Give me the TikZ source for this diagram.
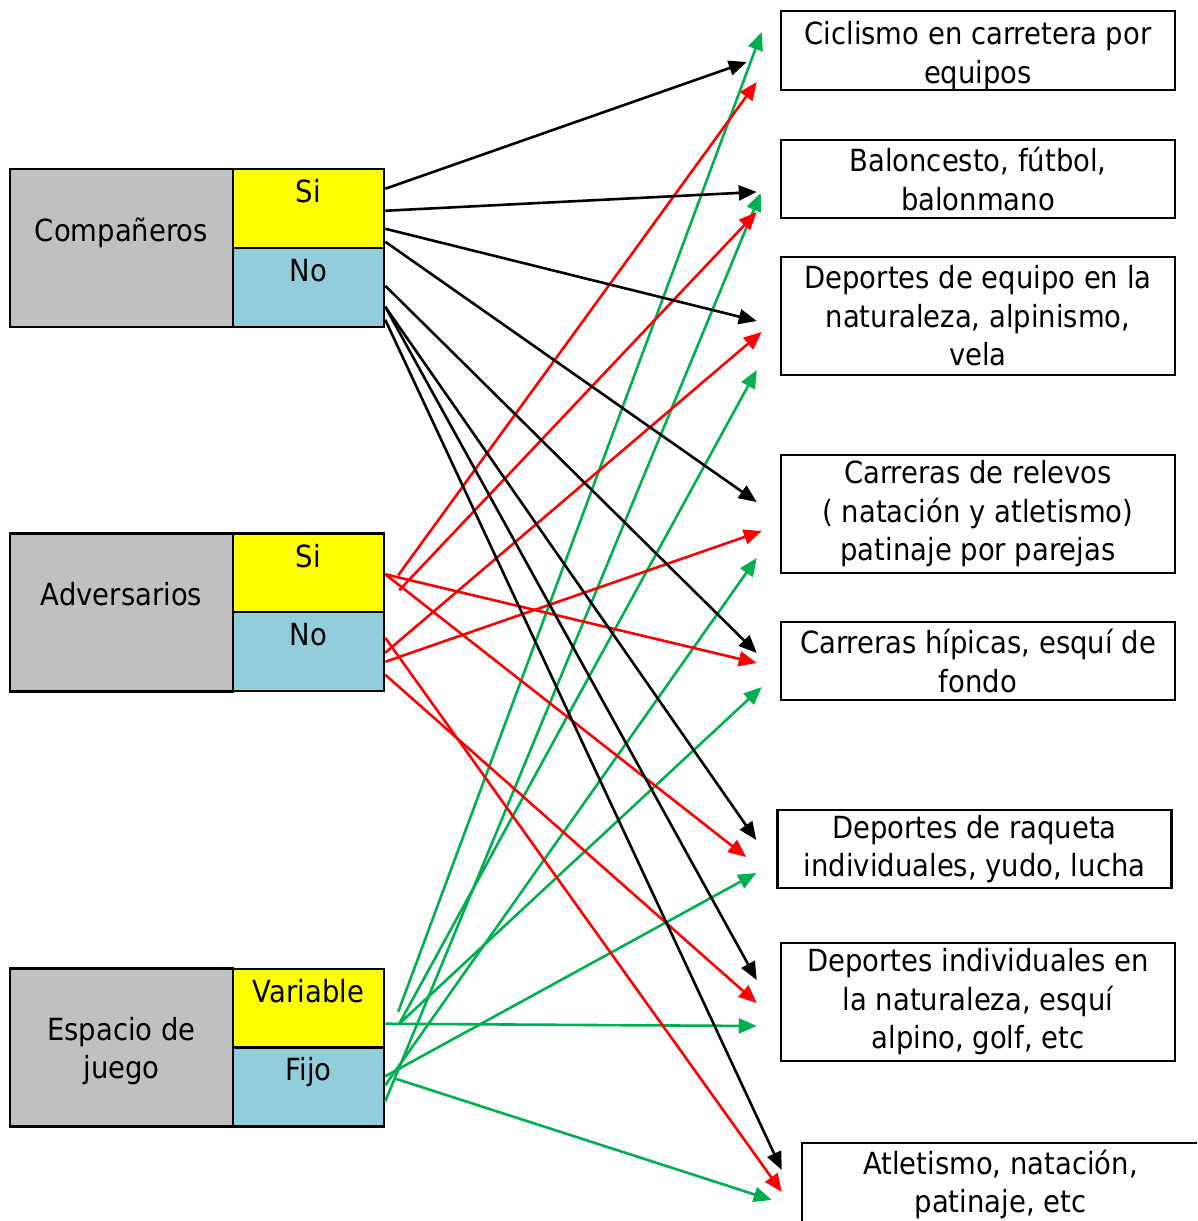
\documentclass[tikz,border=0pt]{standalone}
\usepackage{fontspec}
\setmainfont{DejaVu Sans}[FakeStretch=0.9]
\usetikzlibrary{calc,arrows.meta}
\definecolor{boxgray}{HTML}{C0C0C0}
\definecolor{boxyellow}{HTML}{FFFF00}
\definecolor{boxblue}{HTML}{92CDDC}
\definecolor{arrred}{HTML}{FF0000}
\definecolor{arrgreen}{HTML}{00B050}
\begin{document}
\begin{tikzpicture}[x=1pt,y=-1pt,
  every node/.style={font=\fontsize{30.5}{38.5}\selectfont, inner sep=0pt},
  cell/.style={draw, line width=2.5pt, minimum width=#1, minimum height=79pt},
  catbox/.style={draw, line width=2.5pt, fill=boxgray, minimum width=223pt, minimum height=158pt},
  yes/.style={cell=151pt, fill=boxyellow},
  no/.style={cell=151pt, fill=boxblue},
  sportbox/.style={draw, line width=2.5pt, align=center, minimum width=394pt},
  lbl/.style={anchor=base, align=center},
  arr/.style={line width=2.6pt, -{Triangle[length=18pt,width=15pt]}},
  blk/.style={arr, black},
  rd/.style={arr, arrred},
  gr/.style={arr, arrgreen}]
\useasboundingbox (0,0) rectangle (1197,1221);
\clip (0,0) rectangle (1197,1221);

% category blocks
\node[catbox] (comp) at (121.5,248) {};
\node[yes] (csi) at (308.5,208.5) {};
\node[no]  (cno) at (308.5,287.5) {};
\node[lbl] (tcomp) at (121.5,241) {Compañeros};
\node[lbl] (tcsi) at (308.5,202) {Si};
\node[lbl] (tcno) at (308.5,281) {No};

\node[catbox] (adv) at (121.5,612.5) {};
\node[yes] (asi) at (308.5,573) {};
\node[no]  (ano) at (308.5,651.5) {};
\node[lbl] (tadv) at (121.5,605) {Adversarios};
\node[lbl] (tasi) at (308.5,567) {Si};
\node[lbl] (tano) at (308.5,645) {No};

\node[catbox] (esp) at (121.5,1047.5) {};
\node[yes] (var) at (308.5,1008.5) {};
\node[no]  (fijo) at (308.5,1087) {};
\node[lbl] (tesp) at (121.5,1078.5) {Espacio de\\juego};
\node[lbl] (tvar) at (308.5,1002) {Variable};
\node[lbl] (tfijo) at (308.5,1080) {Fijo};

% sports
\node[sportbox, minimum height=79pt, text depth=0pt] (r1) at (978,50.5) {\raisebox{-4pt}{\shortstack{Ciclismo en carretera por\\[6pt]equipos}}};
\node[sportbox, minimum height=78pt] (r2) at (978,179) {Baloncesto, fútbol,\\balonmano};
\node[sportbox, minimum height=118pt] (r3) at (978,316) {Deportes de equipo en la\\naturaleza, alpinismo,\\vela};
\node[sportbox, minimum height=118pt] (r4) at (978,514) {Carreras de relevos\\( natación y atletismo)\\patinaje por parejas};
\node[sportbox, minimum height=78pt] (r5) at (978,661) {Carreras hípicas, esquí de\\fondo};
\node[sportbox, minimum height=78pt] (r6) at (974.5,849) {Deportes de raqueta\\individuales, yudo, lucha};
\node[sportbox, minimum height=118pt] (r7) at (978,1002) {Deportes individuales en\\la naturaleza, esquí\\alpino, golf, etc};
\node[sportbox, minimum width=397pt, minimum height=83pt] (r8) at (1000.5,1184.5) {Atletismo, natación,\\patinaje, etc};

% espacio de juego
\draw[gr] ($(var.north east)+(13,44)$) -- ($(r1.west)+(-18,-18.5)$);
\draw[gr] ($(fijo.north east)+(0,55)$) -- ($(r2.west)+(-19,14)$);
\draw[gr] ($(var.north east)+(14,56)$) -- ($(r3.west)+(-23,54)$);
\draw[gr] ($(fijo.north east)+(0,39)$) -- ($(r4.west)+(-23,44)$);
\draw[gr] ($(var.north east)+(14,56)$) -- ($(r5.west)+(-18,26)$);
\draw[gr] ($(fijo.north east)+(0,30)$) -- ($(r6.west)+(-20,24)$);
\draw[gr] ($(var.north east)+(0,56)$) -- ($(r7.west)+(-23,24)$);
\draw[gr] ($(fijo.north east)+(9,32)$) -- ($(r8.west)+(-29,15.5)$);

% adversarios
\draw[rd] ($(asi.north east)+(13,43)$) -- ($(r1.west)+(-23,31.5)$);
\draw[rd] ($(asi.north east)+(14,58)$) -- ($(r2.west)+(-23,33)$);
\draw[rd] ($(ano.north east)+(0,42)$) -- ($(r3.west)+(-18,16)$);
\draw[rd] ($(ano.north east)+(0,51)$) -- ($(r4.west)+(-18,17)$);
\draw[rd] ($(asi.north east)+(0,42)$) -- ($(r5.west)+(-23,2)$);
\draw[rd] ($(asi.north east)+(0,42)$) -- ($(r6.west)+(-30,8)$);
\draw[rd] ($(ano.north east)+(0,64)$) -- ($(r7.west)+(-23,1)$);
\draw[rd] ($(ano.north east)+(0,27)$) -- ($(r8.west)+(-19,7.5)$);

% companeros
\draw[blk] ($(csi.north east)+(0,21)$) -- ($(r1.west)+(-33,11.5)$);
\draw[blk] ($(csi.north east)+(0,43)$) -- ($(r2.west)+(-23,13)$);
\draw[blk] ($(csi.north east)+(0,61)$) -- ($(r3.west)+(-23,5)$);
\draw[blk] ($(csi.north east)+(0,74)$) -- ($(r4.west)+(-23,-12)$);
\draw[blk] ($(cno.north east)+(0,39)$) -- ($(r5.west)+(-23,-8)$);
\draw[blk] ($(cno.north east)+(0,60)$) -- ($(r6.west)+(-20,-9)$);
\draw[blk] ($(cno.north east)+(0,60)$) -- ($(r7.west)+(-23,-22)$);
\draw[blk] ($(cno.north east)+(0,73)$) -- ($(r8.west)+(-19,-14.5)$);
\end{tikzpicture}
\end{document}
